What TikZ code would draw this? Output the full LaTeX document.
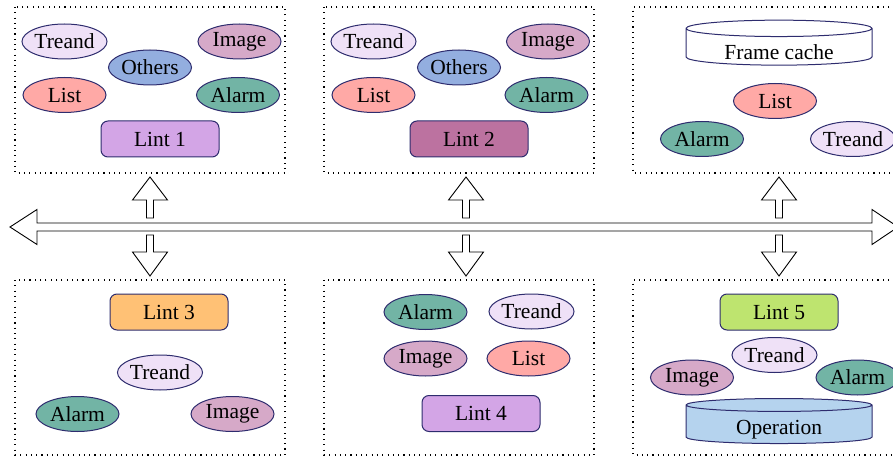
\documentclass[tikz,border=0pt]{standalone}
\usepackage{fontspec}
\setmainfont{Liberation Serif}
\usetikzlibrary{shapes.geometric}

\definecolor{edgeblue}{HTML}{2E2C6E}
\definecolor{treandc}{HTML}{EFE1F7}
\definecolor{imagec}{HTML}{D6A9C8}
\definecolor{othersc}{HTML}{93AEDF}
\definecolor{listc}{HTML}{FFA9A6}
\definecolor{alarmc}{HTML}{72B4A5}
\definecolor{lintpurple}{HTML}{D3A5E6}
\definecolor{lintmauve}{HTML}{BC72A0}
\definecolor{lintorange}{HTML}{FFC175}
\definecolor{lintgreen}{HTML}{BEE46F}
\definecolor{operc}{HTML}{B5D3EE}

\newcommand{\lowtext}[1]{\raisebox{-5pt}[\height][\depth]{#1}}

\tikzset{
  kind/.style={ellipse, draw=edgeblue, line width=1pt, minimum width=83pt, minimum height=35pt, inner sep=0pt},
  lint/.style={rectangle, rounded corners=7pt, draw=edgeblue, line width=1pt, minimum width=118pt, minimum height=36pt, inner sep=0pt},
  store/.style={cylinder, shape border rotate=90, draw=edgeblue, line width=1pt, aspect=0.15, minimum width=186pt, minimum height=45pt, inner sep=0pt},
  group/.style={draw, line width=1.1pt, dash pattern=on 1.1pt off 4.2pt},
  bigarrow/.style={draw, line width=0.9pt, fill=white, line join=miter}
}

\begin{document}
\begin{tikzpicture}[x=1pt, y=-1pt, font=\rmfamily\fontsize{21.5}{24}\selectfont]
\useasboundingbox (0,0) rectangle (893,457);

% dotted groups
\draw[group] (15,7) rectangle (285,173);
\draw[group] (324,7) rectangle (594,173);
\draw[group] (905,7) -- (633,7) -- (633,173) -- (905,173);
\draw[group] (15,280) rectangle (285,455);
\draw[group] (324,280) rectangle (594,455);
\draw[group] (905,280) -- (633,280) -- (633,455) -- (905,455);

% bus
\draw[bigarrow] (10,227) -- (37,209.5) -- (37,223) -- (872,223) -- (872,209.5) -- (898,227)
  -- (872,244.5) -- (872,231) -- (37,231) -- (37,244.5) -- cycle;
\foreach \c in {150,466,779} {
  \draw[bigarrow] (\c-3.5,218) -- (\c-3.5,200) -- (\c-17.5,200) -- (\c,177)
    -- (\c+17.5,200) -- (\c+3.5,200) -- (\c+3.5,218) -- cycle;
  \draw[bigarrow] (\c-3.5,235) -- (\c-3.5,252) -- (\c-17.5,252) -- (\c,276)
    -- (\c+17.5,252) -- (\c+3.5,252) -- (\c+3.5,235) -- cycle;
}

% Lint 1
\node[kind, fill=treandc] (treand1) at (64.5,41.5) {Treand};
\node[kind, fill=imagec] (image1) at (239.5,41.5) {Image};
\node[kind, fill=othersc] (others1) at (150,67.5) {Others};
\node[kind, fill=listc] (list1) at (64.5,95) {List};
\node[kind, fill=alarmc] (alarm1) at (238,95) {Alarm};
\node[lint, fill=lintpurple] (lint1) at (160,139) {Lint 1};

% Lint 2
\node[kind, fill=treandc] (treand2) at (373.5,41.5) {Treand};
\node[kind, fill=imagec] (image2) at (548,41.5) {Image};
\node[kind, fill=othersc] (others2) at (459,67.5) {Others};
\node[kind, fill=listc] (list2) at (373.5,95) {List};
\node[kind, fill=alarmc] (alarm2) at (546.5,95) {Alarm};
\node[lint, fill=lintmauve] (lint2) at (469,139) {Lint 2};

% frame cache
\node[store, fill=white] (cache) at (779,47) {\lowtext{Frame cache}};
\node[kind, fill=listc] (list3) at (775,101) {List};
\node[kind, fill=alarmc] (alarm3) at (702,139) {Alarm};
\node[kind, fill=treandc] (treand3) at (853,139) {Treand};

% Lint 3
\node[lint, fill=lintorange] (lint3) at (169,312) {Lint 3};
\node[kind, fill=treandc] (treand4) at (160,372.5) {Treand};
\node[kind, fill=alarmc] (alarm4) at (77.5,414) {Alarm};
\node[kind, fill=imagec] (image4) at (232.5,414) {Image};

% Lint 4
\node[kind, fill=alarmc] (alarm5) at (425.5,312) {Alarm};
\node[kind, fill=treandc] (treand5) at (531.5,311.5) {Treand};
\node[kind, fill=imagec] (image5) at (425.5,358.5) {Image};
\node[kind, fill=listc] (list5) at (528.5,358.5) {List};
\node[lint, fill=lintpurple] (lint4) at (481,413.5) {Lint 4};

% Lint 5 and operation store
\node[lint, fill=lintgreen] (lint5) at (779,312) {Lint 5};
\node[kind, fill=treandc] (treand6) at (774.5,355) {Treand};
\node[kind, fill=imagec] (image6) at (692,377.5) {Image};
\node[kind, fill=alarmc] (alarm6) at (857.5,377.5) {Alarm};
\node[store, fill=operc] (operation) at (779,424.5) {\lowtext{Operation}};
\end{tikzpicture}
\end{document}
